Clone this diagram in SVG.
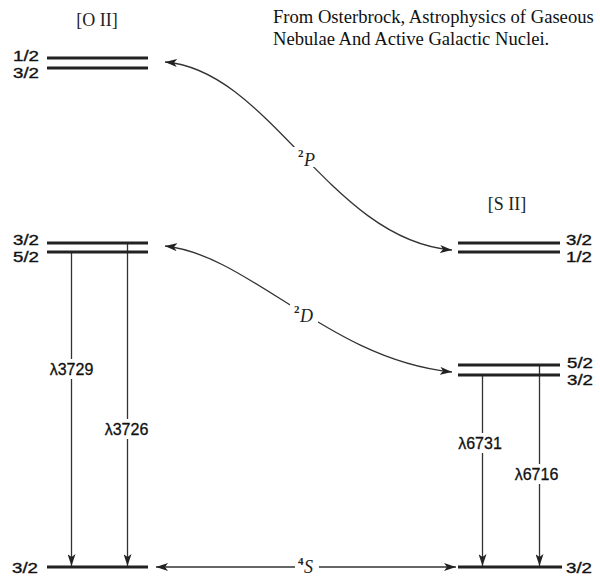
<svg xmlns="http://www.w3.org/2000/svg" width="600" height="579" viewBox="0 0 600 579">
<defs>
<marker id="ah" viewBox="0 0 12 8" refX="12" refY="4" markerWidth="12" markerHeight="8" markerUnits="userSpaceOnUse" orient="auto-start-reverse">
<path d="M0,0 L12,4 L0,8 L3,4 Z" fill="#222"/>
</marker>
</defs>
<style>
.lvl{stroke:#222;stroke-width:3;fill:none}
.con{stroke:#333;stroke-width:1.3;fill:none}
.jl{font-family:"Liberation Sans","DejaVu Sans",sans-serif;font-size:14.6px;fill:#111;stroke:#111;stroke-width:0.35}
.wl{font-family:"Liberation Sans","DejaVu Sans",sans-serif;font-size:16px;fill:#111;stroke:#111;stroke-width:0.3}
.ion{font-family:"Liberation Serif","DejaVu Serif",serif;font-size:18px;fill:#222}
.term{font-family:"Liberation Serif","DejaVu Serif",serif;font-size:18px;font-style:italic;fill:#222}
.sup{font-family:"Liberation Serif","DejaVu Serif",serif;font-size:11px;fill:#222;font-weight:bold}
.cite{font-family:"Liberation Serif","Times New Roman",serif;font-size:18.6px;fill:#111}
</style>
<rect width="600" height="579" fill="#fff"/>

<text class="cite" x="273" y="23">From Osterbrock, Astrophysics of Gaseous</text>
<text class="cite" x="273" y="45">Nebulae And Active Galactic Nuclei.</text>

<g id="connectors">
<path class="con" d="M165,62 C270,70 330,240 452,250" marker-start="url(#ah)" marker-end="url(#ah)"/>
<path class="con" d="M165,246 C250,255 330,360 452,372" marker-start="url(#ah)" marker-end="url(#ah)"/>
<rect x="293" y="147" width="27" height="20" fill="#fff"/>
<rect x="290" y="304" width="28" height="20" fill="#fff"/>
<line class="con" x1="295" y1="567" x2="156" y2="567" marker-end="url(#ah)"/>
<line class="con" x1="319" y1="567" x2="456" y2="567" marker-end="url(#ah)"/>
<line class="con" x1="71.5" y1="252" x2="71.5" y2="566" marker-end="url(#ah)"/>
<line class="con" x1="127.5" y1="243" x2="127.5" y2="566" marker-end="url(#ah)"/>
<line class="con" x1="482.5" y1="375" x2="482.5" y2="566" marker-end="url(#ah)"/>
<line class="con" x1="539.5" y1="365" x2="539.5" y2="566" marker-end="url(#ah)"/>
</g>

<g id="term-2P">
<text class="sup" x="298" y="157">2</text>
<text class="term" x="304" y="166">P</text>
</g>
<g id="term-2D">
<text class="sup" x="294" y="313">2</text>
<text class="term" x="300" y="322">D</text>
</g>
<g id="term-4S">
<rect x="296" y="555" width="22" height="18" fill="#fff"/>
<text class="sup" x="298" y="565">4</text>
<text class="term" x="304" y="573">S</text>
</g>

<g id="OII-label"><text class="ion" x="97" y="26" text-anchor="middle">[O II]</text></g>
<g id="SII-label"><text class="ion" x="507" y="210" text-anchor="middle">[S II]</text></g>

<g id="OII-2P">
<line class="lvl" x1="47" y1="58" x2="148" y2="58"/>
<line class="lvl" x1="47" y1="68" x2="148" y2="68"/>
<text class="jl" x="13" y="61" textLength="26" lengthAdjust="spacingAndGlyphs">1/2</text>
<text class="jl" x="13" y="78" textLength="26" lengthAdjust="spacingAndGlyphs">3/2</text>
</g>
<g id="OII-2D">
<line class="lvl" x1="47" y1="243" x2="148" y2="243"/>
<line class="lvl" x1="47" y1="252" x2="148" y2="252"/>
<text class="jl" x="13" y="245" textLength="26" lengthAdjust="spacingAndGlyphs">3/2</text>
<text class="jl" x="13" y="262" textLength="26" lengthAdjust="spacingAndGlyphs">5/2</text>
</g>
<g id="OII-4S">
<line class="lvl" x1="47" y1="567" x2="148" y2="567"/>
<text class="jl" x="12" y="573" textLength="26" lengthAdjust="spacingAndGlyphs">3/2</text>
</g>
<g id="SII-2P">
<line class="lvl" x1="458" y1="243" x2="560" y2="243"/>
<line class="lvl" x1="458" y1="252" x2="560" y2="252"/>
<text class="jl" x="566" y="245" textLength="26" lengthAdjust="spacingAndGlyphs">3/2</text>
<text class="jl" x="566" y="262" textLength="26" lengthAdjust="spacingAndGlyphs">1/2</text>
</g>
<g id="SII-2D">
<line class="lvl" x1="458" y1="365" x2="560" y2="365"/>
<line class="lvl" x1="458" y1="375" x2="560" y2="375"/>
<text class="jl" x="567" y="368" textLength="26" lengthAdjust="spacingAndGlyphs">5/2</text>
<text class="jl" x="567" y="385" textLength="26" lengthAdjust="spacingAndGlyphs">3/2</text>
</g>
<g id="SII-4S">
<line class="lvl" x1="458" y1="567" x2="562" y2="567"/>
<text class="jl" x="566" y="573" textLength="26" lengthAdjust="spacingAndGlyphs">3/2</text>
</g>

<g id="lambda-3729">
<rect x="46" y="359" width="50" height="20" fill="#fff"/>
<text class="wl" x="71.5" y="375" text-anchor="middle">λ3729</text>
</g>
<g id="lambda-3726">
<rect x="101" y="419" width="52" height="20" fill="#fff"/>
<text class="wl" x="126.5" y="435" text-anchor="middle">λ3726</text>
</g>
<g id="lambda-6731">
<rect x="455" y="433" width="51" height="20" fill="#fff"/>
<text class="wl" x="480" y="449" text-anchor="middle">λ6731</text>
</g>
<g id="lambda-6716">
<rect x="511" y="464" width="52" height="20" fill="#fff"/>
<text class="wl" x="536.5" y="480" text-anchor="middle">λ6716</text>
</g>
</svg>
